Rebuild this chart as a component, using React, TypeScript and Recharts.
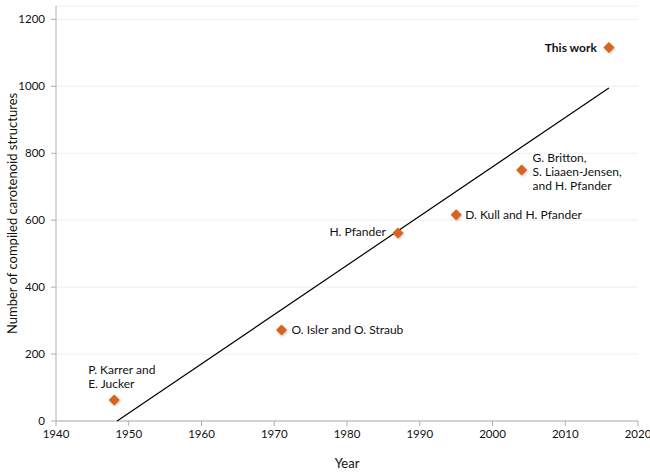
import { ScatterChart, Scatter, XAxis, YAxis, CartesianGrid } from "recharts";

// compilations of carotenoid structures over time
const years = [1948, 1971, 1987, 1995, 2004, 2016];
const counts = [63, 272, 562, 616, 750, 1116];
const sources = [
  ["P. Karrer and", "E. Jucker"],
  ["O. Isler and O. Straub"],
  ["H. Pfander"],
  ["D. Kull and H. Pfander"],
  ["G. Britton,", "S. Liaaen-Jensen,", "and H. Pfander"],
  ["This work"],
];

// linear trend line
const trendYears = [1948.4, 2016];
const trendCounts = [0, 995];

const xTicks = [1940, 1950, 1960, 1970, 1980, 1990, 2000, 2010, 2020];
const yTicks = [0, 200, 400, 600, 800, 1000, 1200];

const points = years.map((year, i) => ({ year, count: counts[i], lines: sources[i], idx: i }));
const trend = trendYears.map((year, i) => ({ year, count: trendCounts[i] }));

const FONT = "Lato, 'Open Sans', sans-serif";
const ORANGE = "#d9621c";
const AXIS = "#a9b0b0";
const LINE_H = 14;

// where each annotation sits relative to its marker
const placement: { dx: number; dy: number; anchor: "start" | "end"; bold?: boolean }[] = [
  { dx: -26, dy: -30, anchor: "start" },
  { dx: 10, dy: 0, anchor: "start" },
  { dx: -12, dy: -1, anchor: "end" },
  { dx: 9, dy: 0, anchor: "start" },
  { dx: 11, dy: -12, anchor: "start" },
  { dx: -12, dy: 0, anchor: "end", bold: true },
];

function Marker(props: any) {
  const { cx, cy, payload } = props;
  const p = placement[payload.idx];
  const s = 5.5;
  return (
    <g>
      <polygon
        points={`${cx},${cy - s} ${cx + s},${cy} ${cx},${cy + s} ${cx - s},${cy}`}
        fill={ORANGE}
        style={{ filter: "drop-shadow(1px 1px 1px rgba(0,0,0,0.25))" }}
      />
      {payload.lines.map((ln: string, j: number) => (
        <text
          key={j}
          x={cx + p.dx}
          y={cy + p.dy + j * LINE_H}
          dy="0.35em"
          textAnchor={p.anchor}
          fontFamily={FONT}
          fontSize={12}
          fontWeight={p.bold ? 700 : 400}
          fill="#111"
        >
          {ln}
        </text>
      ))}
    </g>
  );
}

export default function App() {
  return (
    <div style={{ position: "absolute", left: 0, top: 0, background: "#fff" }}>
      <ScatterChart width={650} height={472} margin={{ top: 6, right: 12, bottom: 0, left: 0 }}>
        <CartesianGrid vertical={false} stroke="#efefef" />
        <XAxis
          type="number"
          dataKey="year"
          domain={[1940, 2020]}
          ticks={xTicks}
          height={51}
          stroke={AXIS}
          tickSize={5}
          tickMargin={4}
          tick={{ fill: "#111", fontSize: 11.5, fontFamily: FONT }}
          label={{ value: "Year", position: "insideBottom", offset: 4, fill: "#111", fontSize: 13, fontFamily: FONT }}
        />
        <YAxis
          type="number"
          dataKey="count"
          domain={[0, 1240]}
          ticks={yTicks}
          width={56}
          stroke={AXIS}
          tickSize={5}
          tickMargin={6}
          tick={{ fill: "#111", fontSize: 11.5, fontFamily: FONT }}
          label={{
            value: "Number of compiled carotenoid structures",
            angle: -90,
            position: "insideLeft",
            offset: 12,
            style: { textAnchor: "middle" },
            fill: "#111",
            fontSize: 13,
            fontFamily: FONT,
          }}
        />
        <Scatter
          data={trend}
          line={{ stroke: "#000", strokeWidth: 1.2 }}
          shape={() => <g />}
          isAnimationActive={false}
        />
        <Scatter data={points} shape={<Marker />} isAnimationActive={false} />
      </ScatterChart>
    </div>
  );
}
